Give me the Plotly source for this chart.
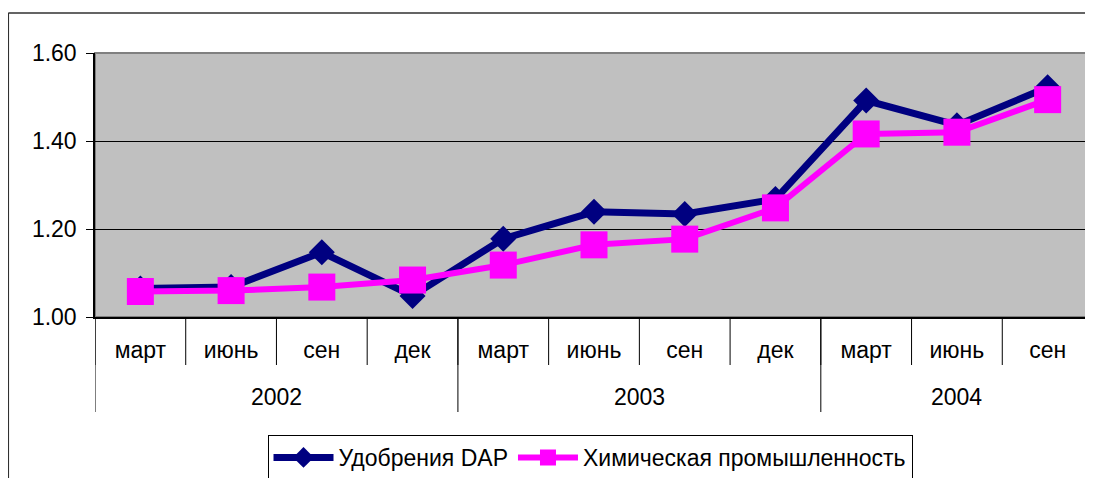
import plotly.graph_objects as go

months = ["март", "июнь", "сен", "дек", "март", "июнь", "сен", "дек", "март", "июнь", "сен"]
years = ["2002", "2002", "2002", "2002", "2003", "2003", "2003", "2003", "2004", "2004", "2004"]
dap = [1.065, 1.068, 1.147, 1.048, 1.178, 1.239, 1.234, 1.268, 1.492, 1.436, 1.522]
chem = [1.058, 1.060, 1.068, 1.084, 1.118, 1.164, 1.177, 1.248, 1.416, 1.420, 1.494]
y_ticks = [1.0, 1.2, 1.4, 1.6]

FONT = "Liberation Sans, Arial, sans-serif"
FS = 23
x = list(range(len(months)))

fig = go.Figure()
fig.add_trace(go.Scatter(
    x=x, y=dap, mode="lines+markers", name="Удобрения DAP",
    line=dict(color="#000080", width=7),
    marker=dict(symbol="diamond", size=20, color="#000080"),
))
fig.add_trace(go.Scatter(
    x=x, y=chem, mode="lines+markers", name="Химическая промышленность",
    line=dict(color="#FF00FF", width=6),
    marker=dict(symbol="square", size=27, color="#FF00FF"),
))

# group boundaries
inner_bounds = [i - 0.5 for i in range(len(months) + 1)]
group_bounds = [-0.5]
group_centers = []
start = 0
for i in range(1, len(years) + 1):
    if i == len(years) or years[i] != years[i - 1]:
        group_bounds.append(i - 0.5)
        group_centers.append(((start + i - 1) / 2, years[start]))
        start = i

shapes = []
# outer chart border (left and top edges visible)
shapes.append(dict(type="line", xref="paper", yref="paper",
                   x0=(9 - 95) / 990, x1=1.3, y0=(317 - 13) / 264, y1=(317 - 13) / 264,
                   line=dict(color="#303030", width=1.5)))
shapes.append(dict(type="line", xref="paper", yref="paper",
                   x0=(9 - 95) / 990, x1=(9 - 95) / 990, y0=-0.8, y1=(317 - 13) / 264,
                   line=dict(color="#303030", width=1.5)))
# plot area border (gray top/right)
shapes.append(dict(type="rect", xref="paper", yref="paper", x0=0, x1=1, y0=0, y1=1,
                   line=dict(color="#808080", width=2), fillcolor="rgba(0,0,0,0)", layer="below"))
for b in inner_bounds:
    shapes.append(dict(type="line", xref="x", yref="paper", x0=b, x1=b, y0=0, y1=-48 / 264,
                       line=dict(color="black", width=1)))
for b in group_bounds:
    shapes.append(dict(type="line", xref="x", yref="paper", x0=b, x1=b, y0=0, y1=-95 / 264,
                       line=dict(color="black", width=1)))

annotations = []
for cx, label in group_centers:
    annotations.append(dict(x=cx, y=(317 - 397) / 264, xref="x", yref="paper", text=label,
                            showarrow=False, font=dict(family=FONT, size=FS, color="black"),
                            xanchor="center", yanchor="middle"))

fig.update_layout(
    width=1093, height=478,
    margin=dict(l=87, r=8, t=45, b=169, autoexpand=False),
    paper_bgcolor="white", plot_bgcolor="#C0C0C0",
    font=dict(family=FONT, size=FS, color="black"),
    showlegend=True,
    legend=dict(orientation="h", x=0.496, xanchor="center", y=(317 - 435) / 264, yanchor="top",
                bordercolor="black", borderwidth=1, bgcolor="white",
                font=dict(family=FONT, size=FS, color="black"),
                itemwidth=60, tracegroupgap=0),
    shapes=shapes, annotations=annotations,
)
fig.update_xaxes(
    range=[-0.5, len(months) - 0.5], tickmode="array", tickvals=x, ticktext=months,
    ticks="", showgrid=False, zeroline=False, showline=True, linecolor="black", linewidth=1.5,
    ticklabelstandoff=12, tickfont=dict(family=FONT, size=FS, color="black"), automargin=False,
)
fig.update_yaxes(
    range=[1.0, 1.6], tickmode="array", tickvals=y_ticks, tickformat=".2f",
    ticks="outside", ticklen=7, tickcolor="black", showgrid=True, gridcolor="black", gridwidth=1,
    zeroline=False, showline=True, linecolor="black", linewidth=1.5, ticklabelstandoff=5,
    tickfont=dict(family=FONT, size=FS, color="black"), automargin=False,
)

fig.write_html("out.html")
